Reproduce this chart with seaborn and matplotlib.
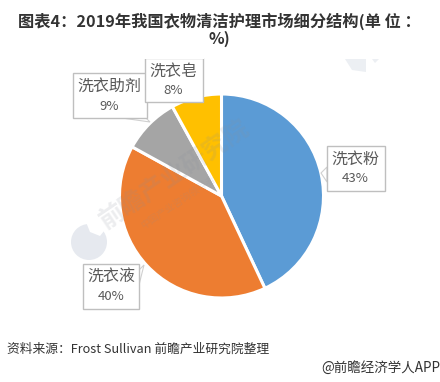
import matplotlib
matplotlib.use("Agg")
import matplotlib.pyplot as plt
from matplotlib.patches import Rectangle, Polygon, Circle
import seaborn as sns

categories = ["洗衣粉", "洗衣液", "洗衣助剂", "洗衣皂"]
shares = [43, 40, 9, 8]
colours = ["#5b9bd5", "#ed7d31", "#a5a5a5", "#ffc000"]
title = "图表4：2019年我国衣物清洁护理市场细分结构(单 位 ：\n%)"
source = "资料来源：Frost Sullivan 前瞻产业研究院整理"
credit = "@前瞻经济学人APP"

W, H = 440, 382
sns.set_theme(style="white")
plt.rcParams["font.family"] = ["Noto Sans CJK SC", "DejaVu Sans"]

fig = plt.figure(figsize=(W / 100, H / 100), dpi=100)
# pixel overlay, y pointing down like the picture
bg = fig.add_axes([0, 0, 1, 1])
bg.set_xlim(0, W)
bg.set_ylim(H, 0)
bg.axis("off")

cx, cy, r = 221.5, 196, 102
ax = fig.add_axes([(cx - r) / W, 1 - (cy + r) / H, 2 * r / W, 2 * r / H])
ax.pie(shares, colors=sns.color_palette(colours), startangle=90, counterclock=False,
       radius=1, wedgeprops=dict(edgecolor="white", linewidth=2.2))
ax.set_xlim(-1, 1)
ax.set_ylim(-1, 1)

top = fig.add_axes([0, 0, 1, 1], zorder=5)
top.set_xlim(0, W)
top.set_ylim(H, 0)
top.axis("off")

# watermark
wm = "#e6e9ef"
bg.add_patch(Circle((89, 242), 18, color=wm, lw=0))
bg.add_patch(Polygon([(86, 222), (108, 226), (100, 236), (90, 232)], color="white", lw=0))
bg.add_patch(Polygon([(345, 59), (366, 59), (366, 72), (352, 70)], color="#eceff3", lw=0))
bg.add_patch(Polygon([(372, 59), (379, 59), (375, 63)], color="#eceff3", lw=0))
top.text(175, 175, "前瞻产业研究院", fontsize=18, fontweight="bold", color="#8a8f99", alpha=0.16,
         rotation=34, ha="center", va="center", rotation_mode="anchor")
top.text(178, 202, "中国产业咨询领导者", fontsize=7, color="#8a8f99", alpha=0.16,
         rotation=34, ha="center", va="center", rotation_mode="anchor")

# callout boxes: index, x0, y0, x1, y1, tail
boxes = [
    (0, 326.5, 146, 384.5, 191, [(327, 167), (327, 182), (321, 173)]),
    (1, 83, 264, 139, 309, [(139, 270), (139, 285), (144, 265)]),
    (2, 72.5, 73, 146.5, 118, [(122, 118), (146, 118), (150, 122)]),
    (3, 144.5, 58, 202.5, 102, None),
]
line = "#bfbfbf"
for i, x0, y0, x1, y1, tail in boxes:
    if tail:
        top.add_patch(Polygon(tail, facecolor="white", edgecolor="#d0d0d0", lw=0.8))
    top.add_patch(Rectangle((x0, y0), x1 - x0, y1 - y0, facecolor="white", edgecolor=line, lw=1))
    xm = (x0 + x1) / 2
    top.text(xm, y0 + 13, categories[i], fontsize=11.5, color="#595959", ha="center", va="center")
    top.text(xm, y0 + 33, f"{shares[i]}%", fontsize=9.5, color="#595959", ha="center", va="center")
# the top of the last box is cut off in the source picture
top.add_patch(Rectangle((143, 50), 61, 9, facecolor="white", edgecolor="none"))

top.text(219.5, 29.5, title, fontsize=11.7, fontweight="bold", color="#333333", ha="center", va="center",
         linespacing=1.05)
top.text(7, 349, source, fontsize=9.2, color="#333333", ha="left", va="center")
top.text(440, 368, credit, fontsize=9.75, color="#333333", ha="right", va="center")

fig.savefig("out.png", dpi=100, facecolor="white")
